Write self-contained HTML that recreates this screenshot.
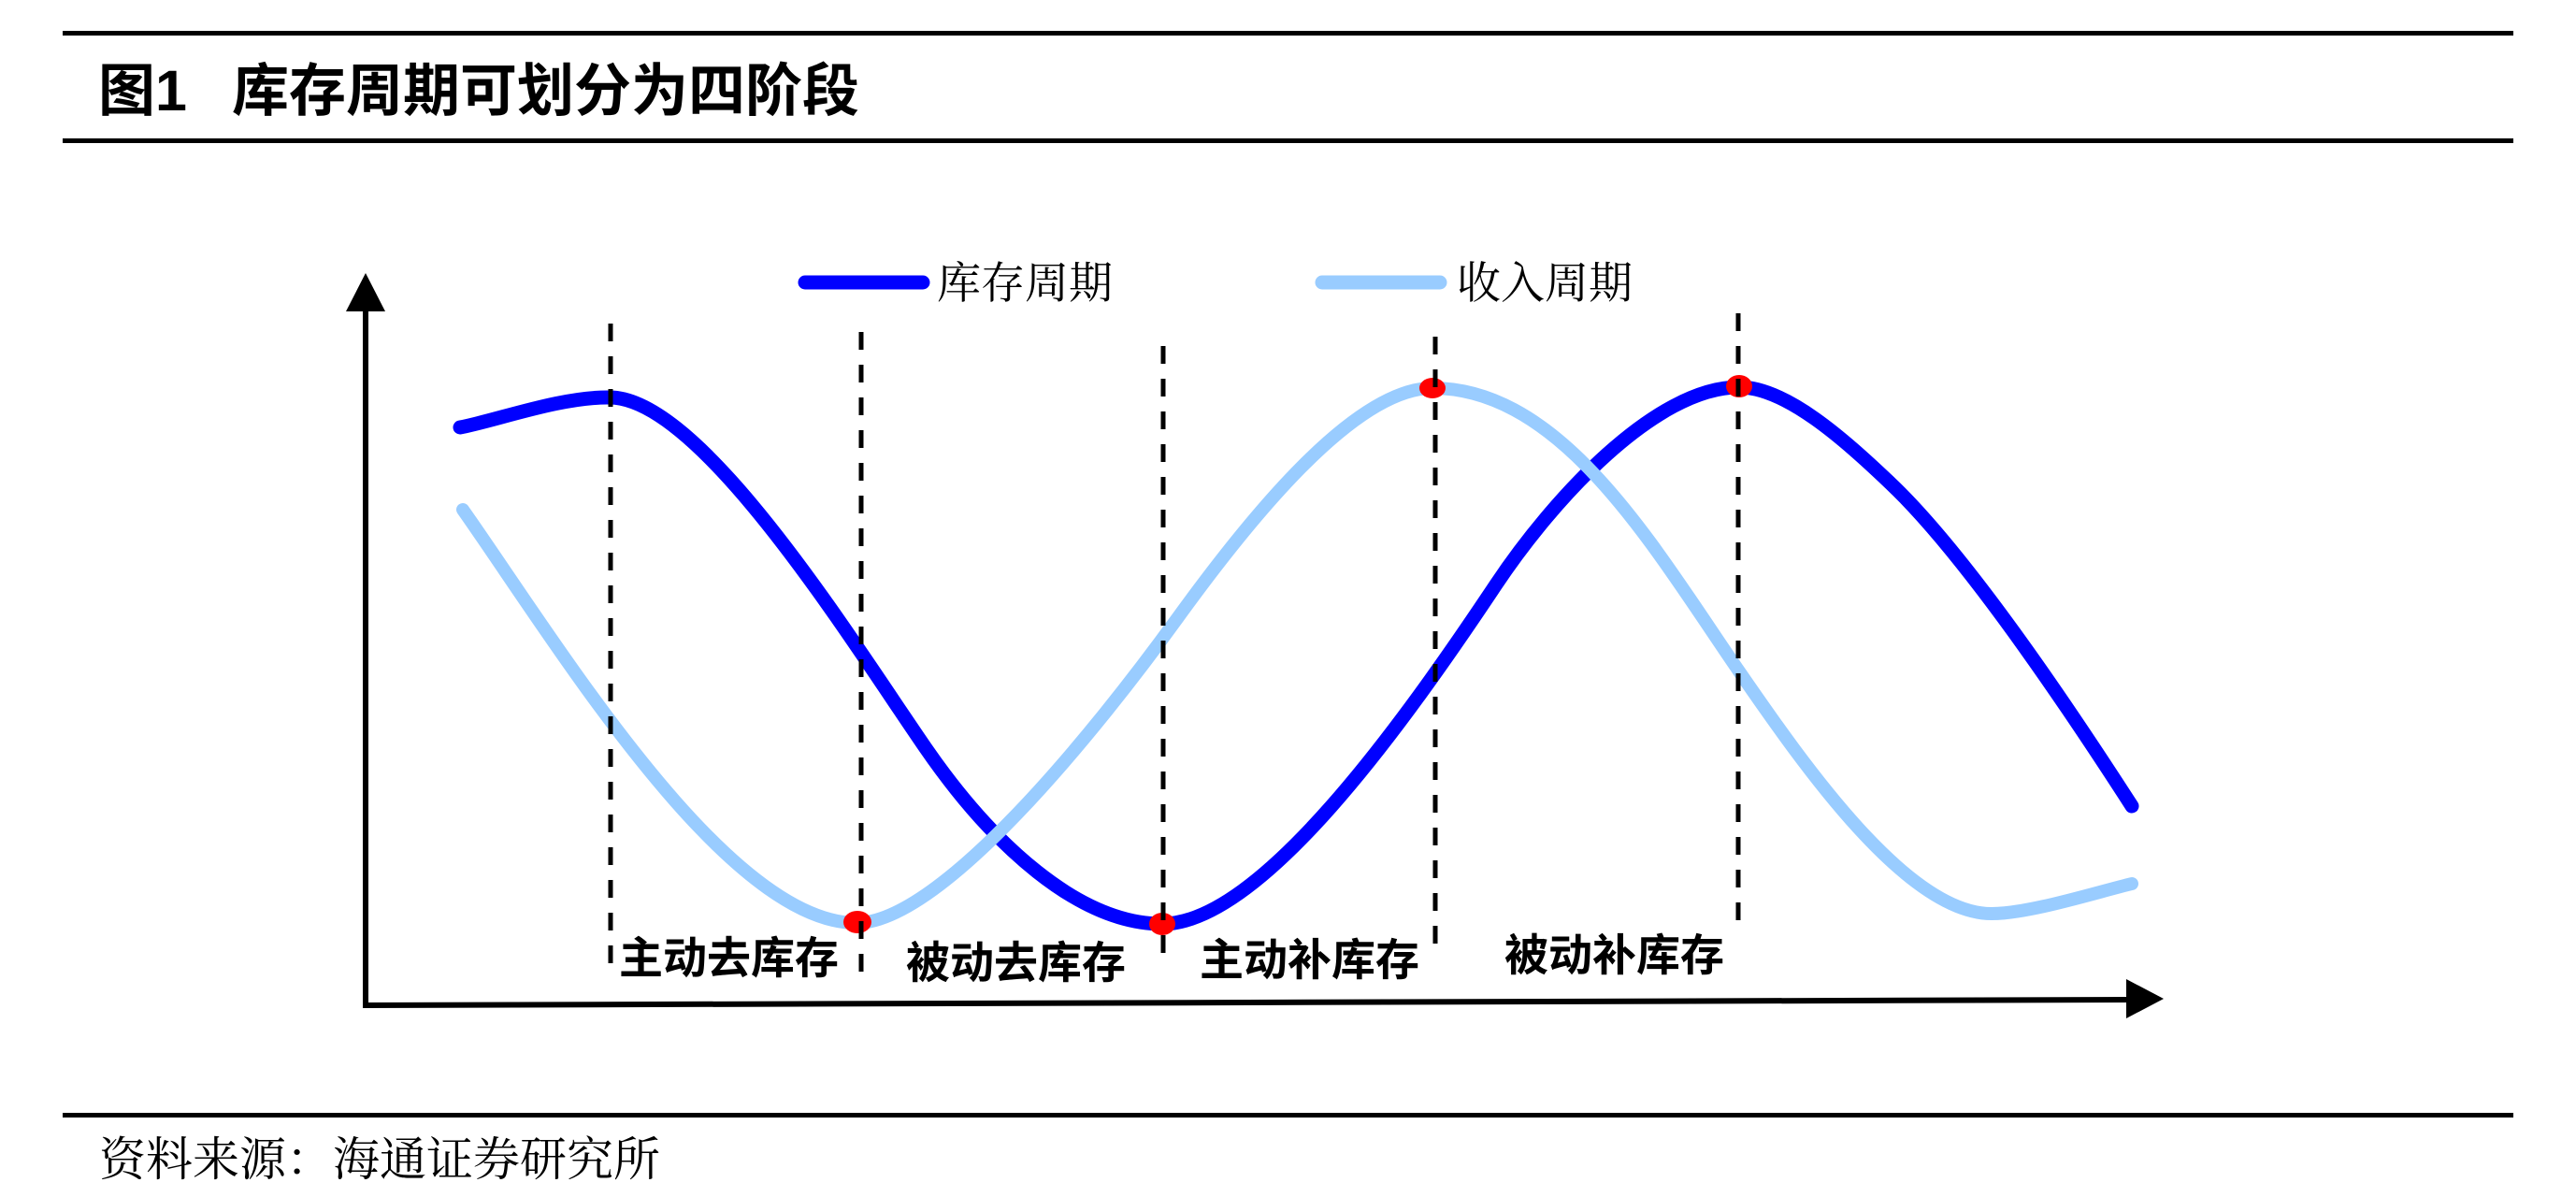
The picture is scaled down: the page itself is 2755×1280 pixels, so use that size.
<!DOCTYPE html>
<html>
<head>
<meta charset="utf-8">
<style>
html,body{margin:0;padding:0;background:#fff;}
svg{display:block;}
</style>
</head>
<body>
<svg xmlns="http://www.w3.org/2000/svg" width="2755" height="1280" viewBox="0 0 2755 1280">
<rect x="0" y="0" width="2755" height="1280" fill="#fff"/>
<!-- header rules -->
<rect x="67" y="33" width="2621" height="5" fill="#000"/>
<rect x="67" y="148" width="2621" height="5" fill="#000"/>
<!-- title -->
<text x="105" y="118" font-family="'Liberation Sans','Noto Sans CJK SC',sans-serif" font-weight="700" font-size="61" fill="#000">图1</text>
<text x="248" y="118" font-family="'Liberation Sans','Noto Sans CJK SC',sans-serif" font-weight="700" font-size="61" fill="#000">库存周期可划分为四阶段</text>

<!-- legend -->
<line x1="861" y1="302" x2="987" y2="302" stroke="#0000FF" stroke-width="15" stroke-linecap="round"/>
<text x="1002" y="319" font-family="'Noto Serif CJK SC','Liberation Serif',serif" font-size="47" fill="#000">库存周期</text>
<line x1="1414" y1="302" x2="1540" y2="302" stroke="#99CCFF" stroke-width="15" stroke-linecap="round"/>
<text x="1558" y="319" font-family="'Noto Serif CJK SC','Liberation Serif',serif" font-size="47" fill="#000">收入周期</text>

<!-- axes -->
<line x1="391" y1="326" x2="391" y2="1078" stroke="#000" stroke-width="6"/>
<polygon points="391,292 370,333 412,333" fill="#000"/>
<line x1="388" y1="1075" x2="2280" y2="1069" stroke="#000" stroke-width="6"/>
<polygon points="2314,1068 2274,1047 2274,1089" fill="#000"/>

<!-- inventory cycle (blue) -->
<path fill="none" stroke="#0000FF" stroke-width="15" stroke-linecap="round" stroke-linejoin="round"
d="M492,457 C530,450 600,424 652,425
C750,425 910,684 990,800
C1060,901.5 1153,988 1243,988
C1348,988 1500,775 1600,625
C1660,535 1770,414 1860,414
C1910,414 1972,469.5 2022,517
C2102,593 2210,753.5 2280,862"/>

<!-- income cycle (light blue) -->
<path fill="none" stroke="#99CCFF" stroke-width="14" stroke-linecap="round" stroke-linejoin="round"
d="M495,545 C595,687 776,987 916,987
C1006,987 1170,784.2 1260,660
C1340,549.6 1450,415 1532,415
C1672,415 1770,587.5 1860,718
C1930,819.5 2040,977 2130,977
C2170,977 2240,954.7 2280,945"/>

<!-- red dots -->
<ellipse cx="917" cy="986" rx="15" ry="12" fill="#FF0000"/>
<ellipse cx="1243" cy="988" rx="14" ry="12" fill="#FF0000"/>
<ellipse cx="1532" cy="415" rx="14" ry="11" fill="#FF0000"/>
<ellipse cx="1860" cy="413" rx="14" ry="12" fill="#FF0000"/>

<!-- dashed dividers -->
<g stroke="#000" stroke-width="5" stroke-dasharray="19 16" fill="none">
<line x1="653" y1="346" x2="653" y2="1030"/>
<line x1="921" y1="355" x2="921" y2="1045"/>
<line x1="1244" y1="370" x2="1244" y2="1033"/>
<line x1="1535" y1="360" x2="1535" y2="1025"/>
<line x1="1859" y1="335" x2="1859" y2="997"/>
</g>

<!-- phase labels -->
<g font-family="'Liberation Sans','Noto Sans CJK SC',sans-serif" font-weight="700" font-size="47" fill="#000">
<text x="662" y="1041">主动去库存</text>
<text x="969" y="1046">被动去库存</text>
<text x="1283" y="1043">主动补库存</text>
<text x="1609" y="1038">被动补库存</text>
</g>

<!-- footer -->
<rect x="67" y="1190" width="2621" height="5" fill="#000"/>
<text x="106" y="1257" font-family="'Noto Serif CJK SC','Liberation Serif',serif" font-size="50" fill="#000">资料来源：海通证券研究所</text>
</svg>
</body>
</html>
